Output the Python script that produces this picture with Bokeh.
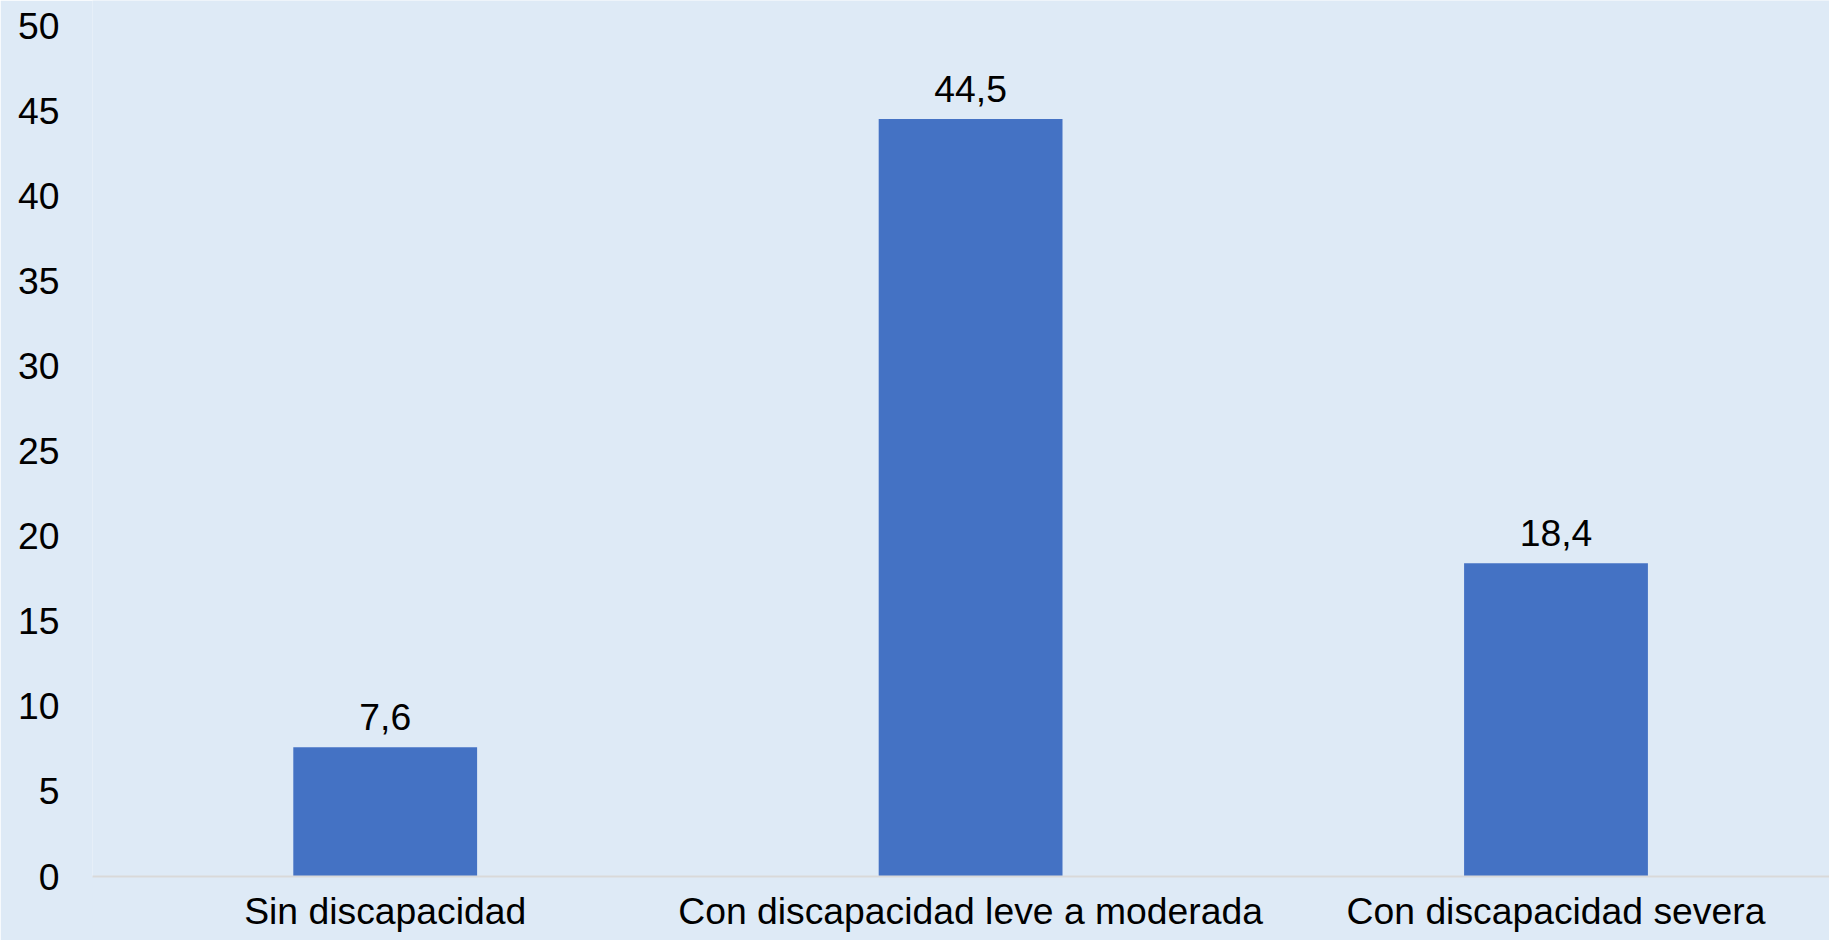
from bokeh.plotting import figure
from bokeh.models import ColumnDataSource, Range1d, FixedTicker
from bokeh.core.properties import value
from bokeh.embed import file_html
from bokeh.resources import INLINE

categories = ["Sin discapacidad", "Con discapacidad leve a moderada", "Con discapacidad severa"]
values = [7.6, 44.5, 18.4]
y_ticks = [0, 5, 10, 15, 20, 25, 30, 35, 40, 45, 50]

BG = "#DEEAF6"
BAR = "#4472C4"
FONT = "Liberation Sans"
FS = "37.3px"

xs = [i + 0.5 for i in range(len(categories))]
labels = [f"{v:.1f}".replace(".", ",") for v in values]
src = ColumnDataSource(dict(x=xs, top=values, label=labels))

W, H = 1829, 940
left, bottom = 92, 64
px_per_cat = 585.4
frame_w = W - left
frame_h = H - bottom
px_per_unit = 17.02

p = figure(width=W, height=H, output_backend="svg", toolbar_location=None,
           x_range=Range1d(0, frame_w / px_per_cat),
           y_range=Range1d(0, frame_h / px_per_unit),
           min_border_left=left, min_border_right=0, min_border_top=0,
           min_border_bottom=bottom)
p.background_fill_color = BG
p.border_fill_color = BG
p.outline_line_color = None
p.grid.visible = False

p.vbar(x="x", top="top", width=0.314, bottom=0, source=src, fill_color=BAR, line_color=None)
p.text(x="x", y="top", text="label", source=src, text_align="center",
       text_baseline="alphabetic", y_offset=-30, text_font=value(FONT),
       text_font_size=FS, text_color="black")

xa = p.xaxis[0]
xa.ticker = FixedTicker(ticks=xs)
xa.major_label_overrides = {x: c for x, c in zip(xs, categories)}
xa.major_tick_line_color = None
xa.minor_tick_line_color = None
xa.major_tick_out = 0
xa.major_tick_in = 0
xa.axis_line_color = "#D9D9D9"
xa.axis_line_width = 2
xa.major_label_text_font = FONT
xa.major_label_text_font_size = FS
xa.major_label_text_color = "black"
xa.major_label_standoff = 13

ya = p.yaxis[0]
ya.ticker = FixedTicker(ticks=y_ticks)
ya.axis_line_color = None
ya.major_tick_line_color = None
ya.minor_tick_line_color = None
ya.major_tick_out = 0
ya.major_tick_in = 0
ya.major_label_text_font = FONT
ya.major_label_text_font_size = FS
ya.major_label_text_color = "black"
ya.major_label_standoff = 33

open("out.html", "w").write(file_html(p, INLINE))
